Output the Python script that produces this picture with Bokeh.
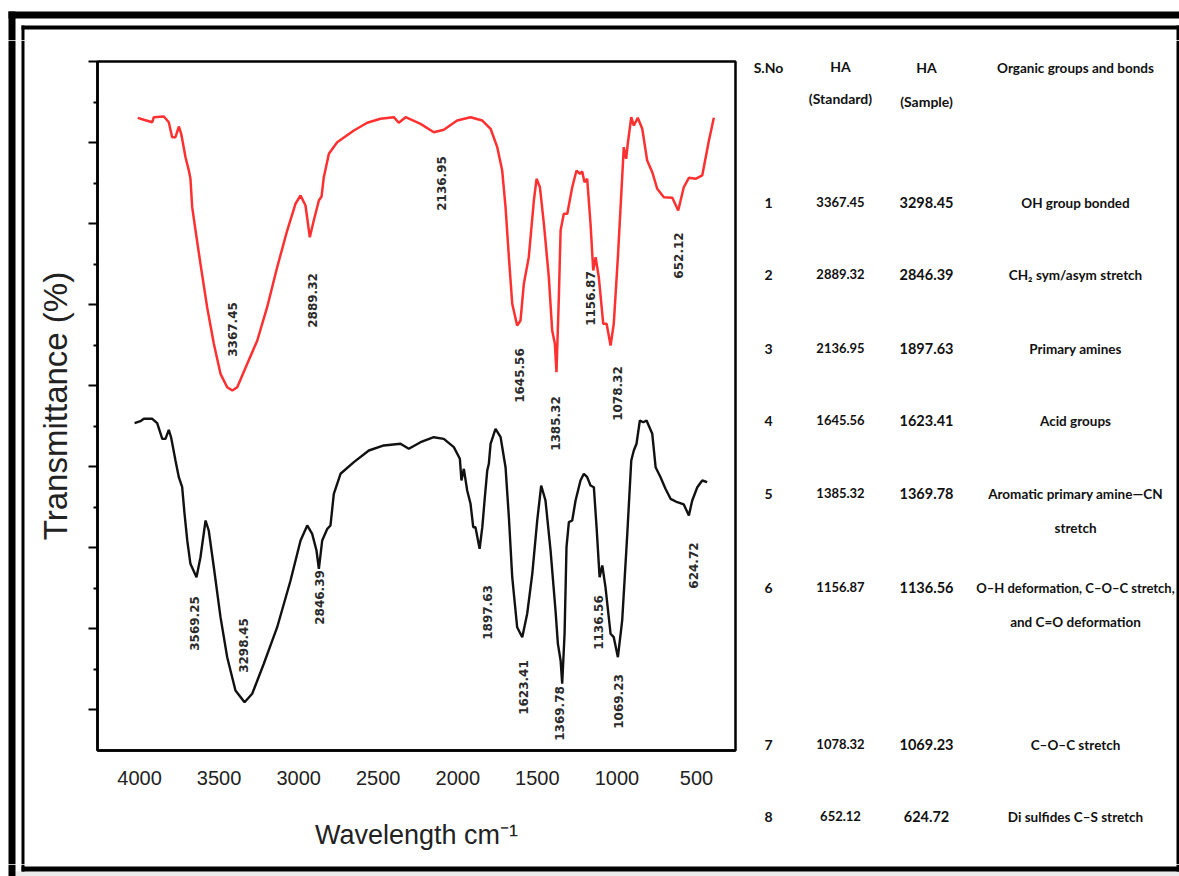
import math
from bokeh.plotting import figure
from bokeh.layouts import row, column
from bokeh.models import Range1d, FixedTicker, LabelSet, ColumnDataSource
from bokeh.core.properties import value
from bokeh.embed import file_html
from bokeh.resources import INLINE

# ---------------- data ----------------
# HA standard spectrum (red)
red_wn = [4011, 3973, 3920, 3910, 3847, 3816, 3795, 3774, 3753, 3738, 3711, 3690, 3680, 3669,
          3648, 3617, 3575, 3533, 3491, 3449, 3417, 3386, 3323, 3260, 3198, 3135, 3072, 3020,
          2988, 2957, 2930, 2905, 2873, 2856, 2842, 2810, 2758, 2653, 2569, 2486, 2402, 2371,
          2328, 2234, 2151, 2088, 2004, 1920, 1846, 1794, 1752, 1721, 1700, 1679, 1658, 1627,
          1606, 1585, 1554, 1522, 1505, 1484, 1459, 1428, 1407, 1390, 1380, 1365, 1354, 1334,
          1312, 1281, 1254, 1233, 1218, 1204, 1187, 1166, 1149, 1134, 1114, 1086, 1065, 1040,
          1020, 994, 967, 957, 942, 932, 910, 894, 869, 841, 810, 778, 747, 705, 652, 615,
          580, 548, 506, 464, 422, 391]
red_t = [73.05, 72.81, 72.51, 73.13, 73.21, 72.51, 70.66, 70.66, 71.98, 71.08, 68.19, 66.55,
         65.53, 62.03, 59.15, 55.04, 49.69, 45.17, 41.47, 39.82, 39.41, 39.82, 42.71, 45.58,
         49.69, 54.62, 59.15, 62.45, 63.47, 62.24, 58.32, 60.38, 62.85, 63.35, 65.73, 68.61,
         70.04, 71.49, 72.44, 72.93, 73.13, 72.44, 73.13, 72.31, 71.28, 71.57, 72.72, 73.13,
         72.72, 71.70, 69.43, 66.55, 62.03, 55.86, 50.11, 47.43, 48.05, 52.58, 55.86, 62.85,
         65.53, 64.49, 59.98, 53.39, 46.81, 45.17, 41.67, 50.92, 59.15, 61.21, 61.21, 64.49,
         66.55, 66.15, 66.43, 65.11, 65.53, 59.98, 54.22, 55.86, 53.39, 47.64, 47.64, 44.96,
         47.64, 55.86, 65.73, 69.43, 68.00, 69.85, 73.13, 72.10, 73.05, 71.70, 67.79, 66.34,
         64.30, 63.26, 63.19, 61.62, 64.49, 65.65, 65.53, 65.94, 70.25, 73.05]

# HA sample spectrum (black)
black_wn = [4031, 3994, 3973, 3920, 3889, 3857, 3837, 3816, 3801, 3774, 3753, 3732, 3717, 3700,
            3680, 3642, 3617, 3585, 3565, 3533, 3491, 3449, 3397, 3340, 3292, 3219, 3135, 3051,
            2988, 2946, 2915, 2888, 2873, 2852, 2820, 2800, 2779, 2737, 2653, 2559, 2465, 2360,
            2308, 2234, 2151, 2088, 2025, 1987, 1977, 1962, 1941, 1920, 1903, 1889, 1863, 1846,
            1830, 1815, 1805, 1794, 1763, 1731, 1700, 1679, 1658, 1627, 1595, 1564, 1532, 1501,
            1476, 1449, 1417, 1386, 1371, 1354, 1344, 1329, 1317, 1302, 1281, 1260, 1229, 1208,
            1187, 1166, 1145, 1128, 1109, 1092, 1072, 1040, 1020, 994, 967, 935, 910, 894, 877,
            856, 835, 814, 778, 757, 726, 695, 663, 621, 580, 548, 527, 495, 464, 433]
black_t = [35.38, 35.63, 35.92, 35.92, 35.38, 33.45, 33.45, 34.56, 33.58, 30.78, 28.72, 27.48,
           24.20, 20.91, 18.03, 16.38, 18.85, 23.37, 22.14, 17.61, 11.45, 6.51, 2.40, 0.96,
           2.00, 5.70, 10.21, 15.97, 20.91, 22.76, 21.73, 19.67, 17.42, 20.91, 22.35, 22.76,
           26.67, 29.14, 30.57, 32.01, 32.63, 32.84, 32.22, 33.03, 33.65, 33.45, 32.42, 30.99,
           28.31, 29.75, 27.08, 25.44, 22.55, 22.55, 19.88, 22.55, 26.25, 29.54, 30.37, 32.84,
           34.69, 33.65, 29.95, 23.78, 16.38, 10.21, 8.98, 11.87, 16.80, 23.37, 27.69, 25.84,
           19.67, 12.27, 8.16, 6.10, 3.23, 9.40, 20.08, 23.17, 23.37, 25.84, 28.31, 29.14,
           28.72, 27.69, 27.48, 22.55, 16.38, 17.82, 15.15, 9.40, 8.98, 6.51, 11.04, 21.73,
           30.78, 32.01, 32.84, 35.71, 35.50, 35.71, 34.07, 29.95, 28.72, 27.29, 26.05, 25.63,
           25.35, 23.99, 25.84, 27.48, 28.31, 28.10]

# peak annotations (text, x in cm-1, y in transmittance units)
red_peak_text = ["3367.45", "2889.32", "2136.95", "1645.56", "1385.32", "1156.87", "1078.32", "652.12"]
red_peak_x = [3416, 2913, 2102, 1612, 1386, 1166, 996, 613]
red_peak_y = [46.94, 50.52, 64.95, 41.26, 35.34, 50.76, 39.04, 56.07]

black_peak_text = ["3569.25", "3298.45", "2846.39", "1897.63", "1623.41", "1369.78", "1136.56", "1069.23", "624.72"]
black_peak_x = [3654, 3346, 2869, 1813, 1587, 1361, 1116, 990, 519]
black_peak_y = [10.67, 7.95, 13.88, 12.03, 2.77, -0.43, 10.79, 1.05, 17.82]

x_ticks = [500, 1000, 1500, 2000, 2500, 3000, 3500, 4000]
y_major = [0, 10, 20, 30, 40, 50, 60, 70, 80]
y_minor = [5, 15, 25, 35, 45, 55, 65, 75]

# table
table_sno = ["1", "2", "3", "4", "5", "6", "7", "8"]
table_std = ["3367.45", "2889.32", "2136.95", "1645.56", "1385.32", "1156.87", "1078.32", "652.12"]
table_sample = ["3298.45", "2846.39", "1897.63", "1623.41", "1369.78", "1136.56", "1069.23", "624.72"]
table_groups = [["OH group bonded"],
                ["CH\u2082 sym/asym stretch"],
                ["Primary amines"],
                ["Acid groups"],
                ["Aromatic primary amine\u2014CN", "stretch"],
                ["O\u2013H deformation, C\u2013O\u2013C stretch,", "and C=O deformation"],
                ["C\u2013O\u2013C stretch"],
                ["Di sulfides C\u2013S stretch"]]

# ---------------- page tiling (canvas pixels) ----------------
W, H = 1179, 876
TOP_H = 40          # top strip
BOT_Y = 864         # bottom strip starts
LEFT_W = 25         # left strip
SPEC_R = 740        # spectrum figure right edge
FL, FR, FT, FB = 97, 735, 61, 750   # spectrum frame
X0, X1 = 4264, 255
Y0, Y1 = -5, 80
MID_H = BOT_Y - TOP_H


def no_align(f):
    try:
        f.frame_align = False
    except Exception:
        pass


def strip(x0, x1, y0, y1):
    f = figure(width=x1 - x0, height=y1 - y0, x_range=Range1d(x0, x1), y_range=Range1d(y1, y0),
               output_backend="svg", toolbar_location=None, x_axis_location=None,
               y_axis_location=None, min_border=0)
    f.grid.visible = False
    f.outline_line_color = None
    f.background_fill_color = "white"
    f.border_fill_color = "white"
    no_align(f)
    return f


def bars(f, rects, color="black"):
    f.quad(left=[r[0] for r in rects], right=[r[1] for r in rects],
           top=[r[2] for r in rects], bottom=[r[3] for r in rects],
           fill_color=color, line_color=None)


# decorative double frame pieces: (left, right, top, bottom)
top_strip = strip(0, W, 0, TOP_H)
bars(top_strip, [(8, W, 11, 18), (8, 15, 11, TOP_H), (21, W, 25, 29),
                 (21, 24, 25, TOP_H), (1176, W, 25, TOP_H)])

left_strip = strip(0, LEFT_W, TOP_H, BOT_Y)
bars(left_strip, [(8, 15, TOP_H, BOT_Y), (21, 24, TOP_H, BOT_Y)])

bot_strip = strip(0, W, BOT_Y, H)
bars(bot_strip, [(15, W, 871, H)], color="#ececec")
bars(bot_strip, [(8, 15, BOT_Y, H), (21, 24, BOT_Y, 871), (21, W, 866, 871), (1176, W, BOT_Y, 871)])

# ---------------- spectrum ----------------
p = figure(width=SPEC_R - LEFT_W, height=MID_H, x_range=Range1d(X0, X1), y_range=Range1d(Y0, Y1),
           output_backend="svg", toolbar_location=None,
           min_border_left=FL - LEFT_W, min_border_right=SPEC_R - FR,
           min_border_top=FT - TOP_H, min_border_bottom=BOT_Y - FB)
no_align(p)
p.grid.visible = False
p.background_fill_color = "white"
p.border_fill_color = "white"
p.outline_line_color = "black"
p.outline_line_width = 2.5

xa = p.xaxis[0]
xa.ticker = FixedTicker(ticks=x_ticks)
xa.axis_line_width = 2.5
xa.axis_line_color = "black"
xa.major_tick_out = 0
xa.major_tick_in = 0
xa.minor_tick_out = 0
xa.minor_tick_in = 0
xa.major_label_text_font = "Liberation Sans"
xa.major_label_text_font_size = "20px"
xa.major_label_text_color = "#222222"
xa.major_label_standoff = 20
xa.axis_label = "Wavelength cm\u207b\u00b9"
xa.axis_label_text_font = "Liberation Sans"
xa.axis_label_text_font_style = "normal"
xa.axis_label_text_font_size = "27px"
xa.axis_label_text_color = "#222222"
xa.axis_label_standoff = 32

ya = p.yaxis[0]
ya.ticker = FixedTicker(ticks=y_major, minor_ticks=y_minor)
ya.major_label_overrides = {v: "" for v in y_major}
ya.axis_line_width = 2.5
ya.axis_line_color = "black"
ya.major_tick_out = 9
ya.major_tick_in = 0
ya.major_tick_line_width = 2
ya.minor_tick_out = 4
ya.minor_tick_in = 0
ya.minor_tick_line_width = 2
ya.major_label_standoff = 0
ya.axis_label = "Transmittance (%)"
ya.axis_label_text_font = "Liberation Sans"
ya.axis_label_text_font_style = "normal"
ya.axis_label_text_font_size = "33px"
ya.axis_label_text_color = "#222222"
ya.axis_label_standoff = 15

p.line(red_wn, red_t, line_color="#ff3030", line_width=2.5)
p.line(black_wn, black_t, line_color="#111111", line_width=2.4)

for txt, xs, ys in ((red_peak_text, red_peak_x, red_peak_y),
                    (black_peak_text, black_peak_x, black_peak_y)):
    src = ColumnDataSource(dict(x=xs, y=ys, t=txt))
    p.add_layout(LabelSet(x="x", y="y", text="t", source=src, angle=math.pi / 2,
                          text_align="center", text_baseline="middle",
                          text_font=value("DejaVu Sans"), text_font_style=value("bold"),
                          text_font_size=value("12px"), text_color="#2a2a2a"))

# ---------------- table ----------------
tb = strip(SPEC_R, W, TOP_H, BOT_Y)
bars(tb, [(1176, W, TOP_H, BOT_Y)])

col_x = [768, 840, 926, 1075]
row_y = [201, 273, 347, 419, 492, 586, 743, 815]
line_gap = 34

cells = {}


def add(t, px, py, size):
    cells.setdefault(size, ([], [], []))
    cells[size][0].append(px)
    cells[size][1].append(py)
    cells[size][2].append(t)


add("S.No", col_x[0], 67, "14px")
add("HA", col_x[1], 66, "14px")
add("(Standard)", col_x[1], 98, "14px")
add("HA", col_x[2], 67, "14px")
add("(Sample)", col_x[2], 101, "14px")
add("Organic groups and bonds", col_x[3], 67, "13.5px")
for i in range(len(table_sno)):
    add(table_sno[i], col_x[0], row_y[i] + 1, "14px")
    add(table_std[i], col_x[1], row_y[i], "13px")
    add(table_sample[i], col_x[2], row_y[i] + 1, "14.5px")
    for k, line in enumerate(table_groups[i]):
        size = "13px" if len(line) > 28 else "13.5px"
        add(line, col_x[3], row_y[i] + 1 + k * line_gap, size)

for size, (xs, ys, ts) in cells.items():
    tb.text(x=xs, y=ys, text=ts, text_align="center", text_baseline="middle",
            text_font=value("Lato"), text_font_style=value("bold"),
            text_font_size=value(size), text_color="#111111")

layout = column(top_strip, row(column(left_strip), column(p), column(tb)), bot_strip)
open("out.html", "w").write(file_html(layout, INLINE))
